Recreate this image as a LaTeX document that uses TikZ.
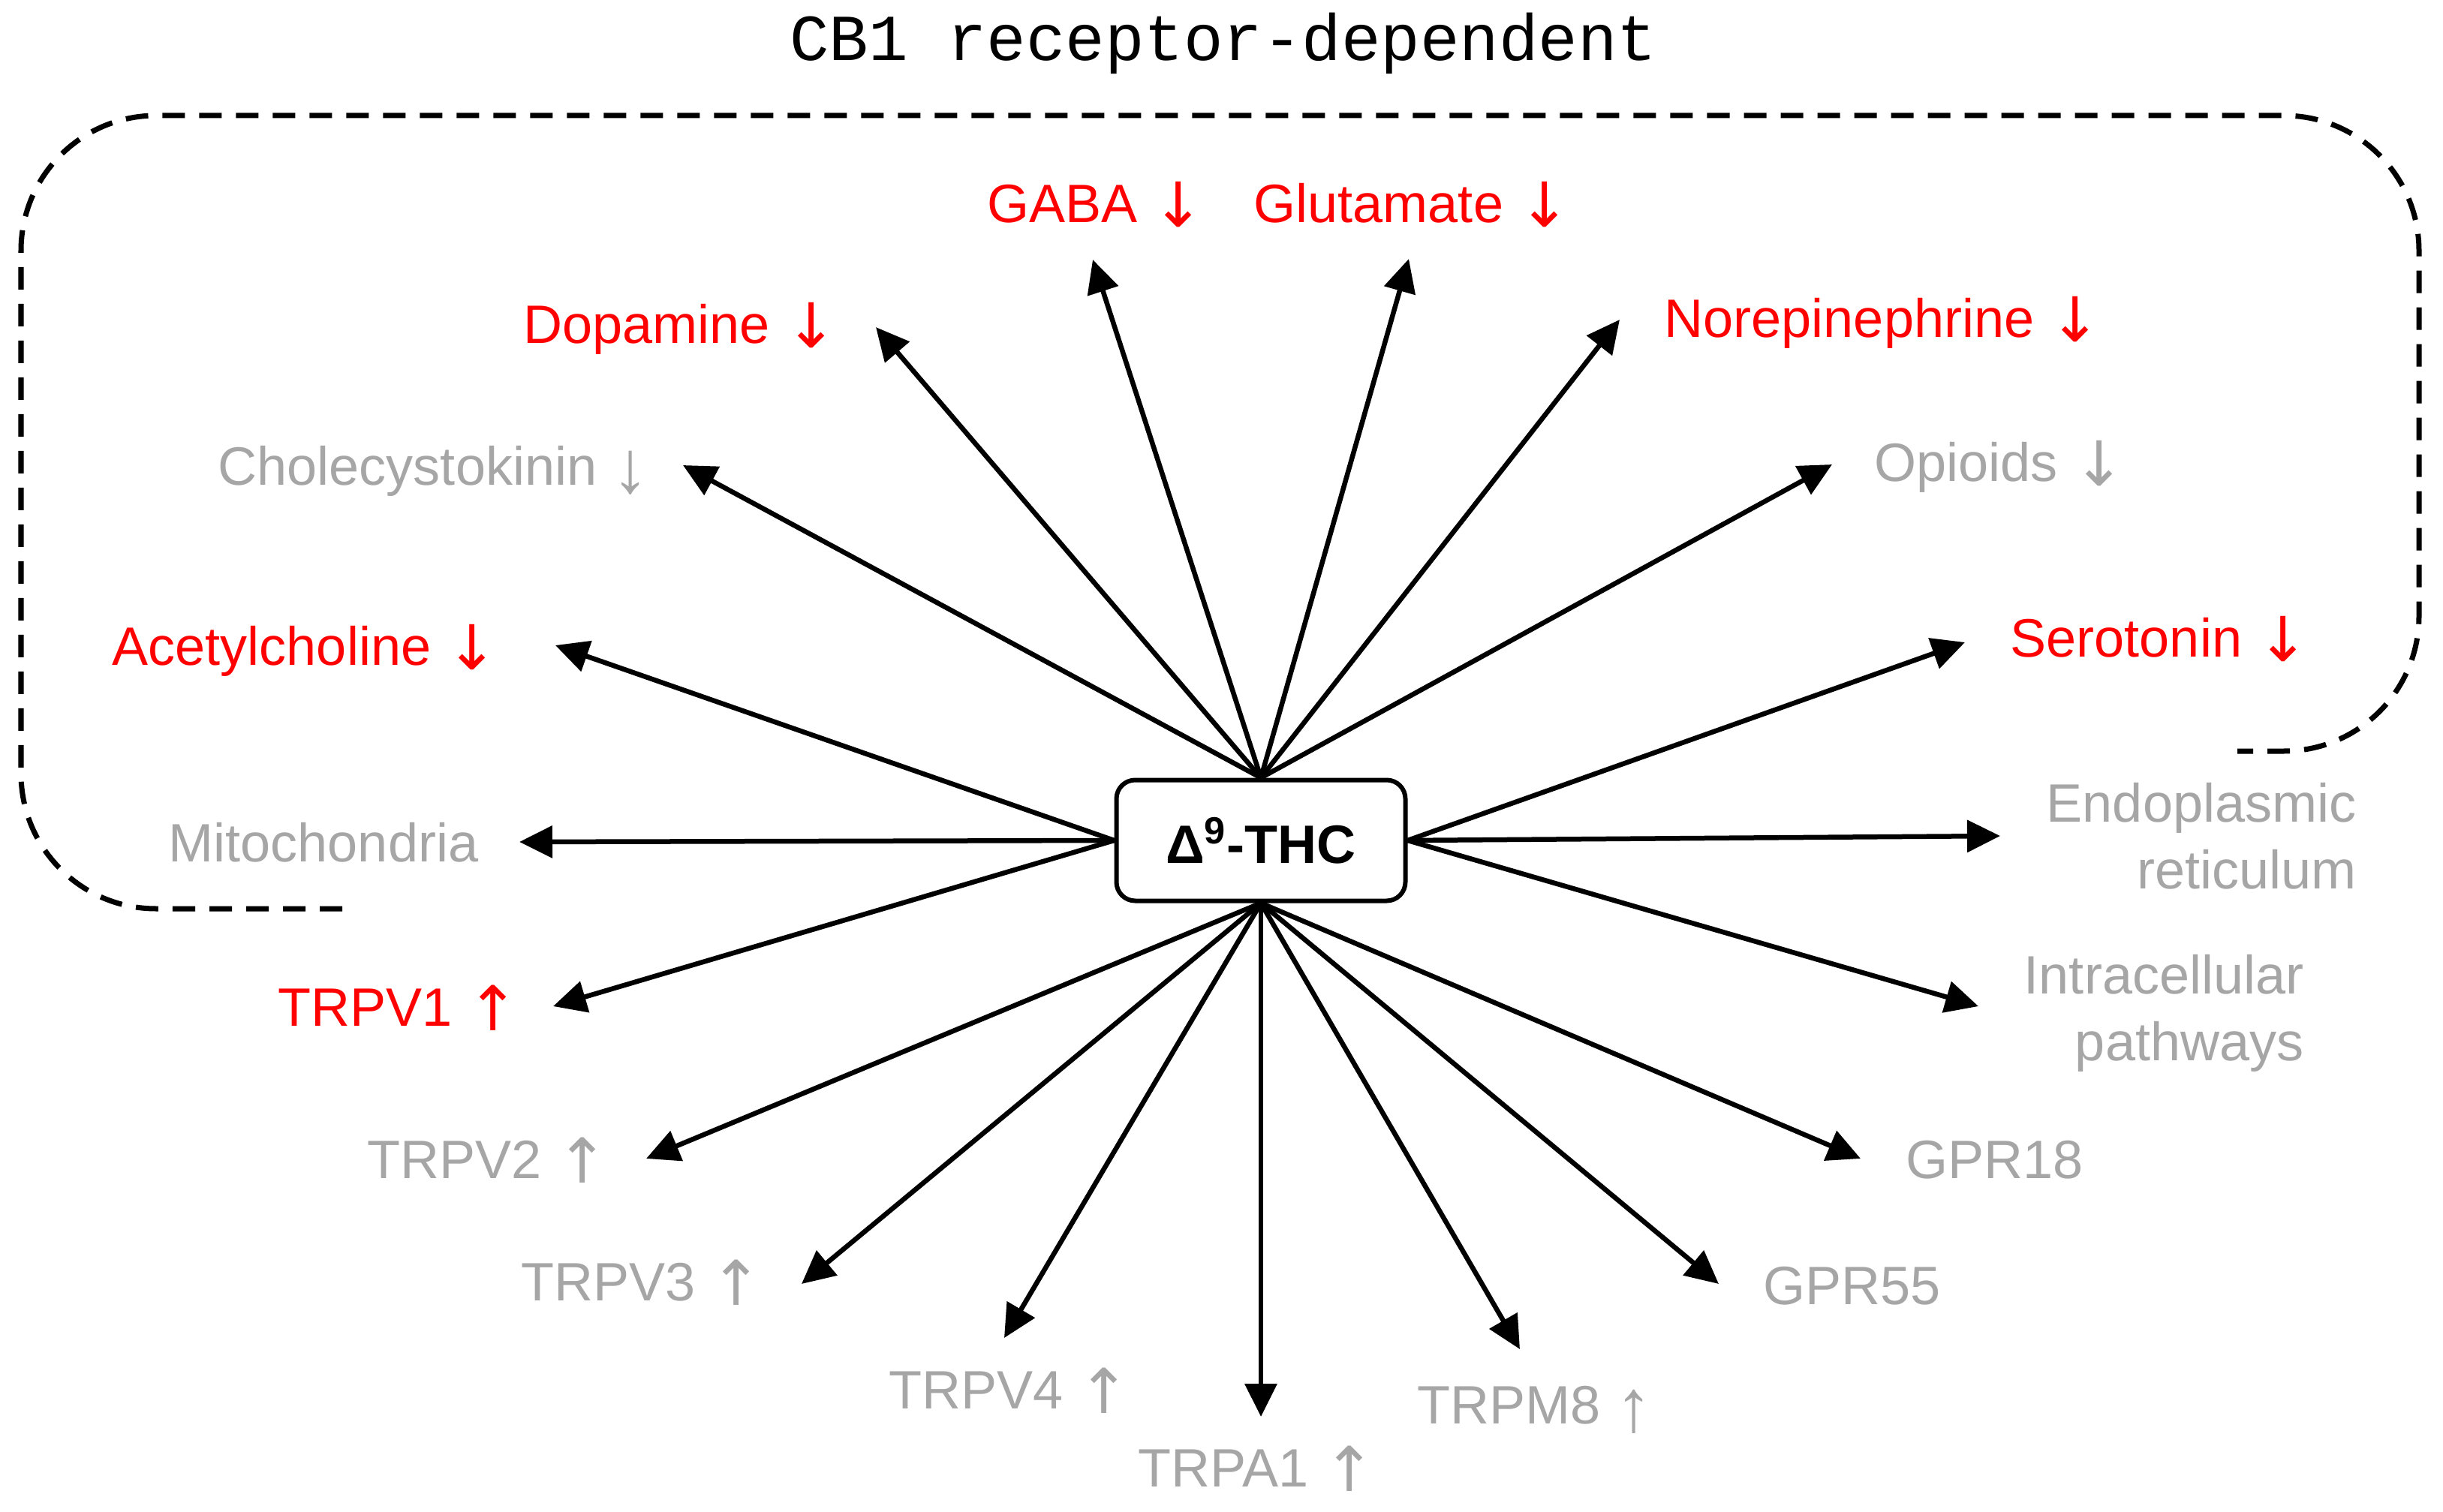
\documentclass[tikz,border=0pt]{standalone}
\usepackage{fontspec}
\setmainfont{Liberation Sans}
\newfontfamily\titlefont{Liberation Mono}
\newfontfamily\arrowfont{DejaVu Sans}
\usetikzlibrary{arrows.meta}
\usetikzlibrary{positioning}
\definecolor{lblred}{RGB}{255,0,0}
\definecolor{lblgray}{RGB}{166,166,166}
\newcommand{\dnarrow}{\raisebox{-0.06cm}{\arrowfont\fontsize{23.5}{25}\selectfont ↓}}
\newcommand{\uparrowmark}{\raisebox{-0.06cm}{\arrowfont\fontsize{23.5}{25}\selectfont ↑}}
\newcommand{\thindn}{\raisebox{-0.1cm}{\fontsize{28}{30}\selectfont ↓}}
\newcommand{\thinup}{\raisebox{-0.1cm}{\fontsize{28}{30}\selectfont ↑}}
\tikzset{
  lbl/.style={anchor=base west, inner sep=0pt, font=\fontsize{20.5}{25.3}\selectfont},
  redlbl/.style={lbl, text=lblred},
  graylbl/.style={lbl, text=lblgray},
  arr/.style={line width=0.065cm, -{Triangle[length=0.44cm,width=0.42cm]}},
  cbline/.style={line width=0.07cm, dash pattern=on 0.3cm off 0.19cm, rounded corners=1.8cm},
  thcbox/.style={draw, line width=0.06cm, rounded corners=0.25cm, minimum width=3.85cm, minimum height=1.61cm, font=\bfseries\fontsize{20.5}{25}\selectfont}
}

\begin{document}
\begin{tikzpicture}
\useasboundingbox (0,0) rectangle (32.55,-20.15);
\node[anchor=base, inner sep=0pt, font=\titlefont\fontsize{24.9}{30}\selectfont] (title) at (16.30,-0.81) {CB1 receptor-dependent};
\draw[cbline] (4.56,-12.11) -- (0.28,-12.11) -- (0.28,-1.54) -- (32.23,-1.54) -- (32.23,-10.01) -- (29.81,-10.01);

\node[thcbox] (thc) at (16.80,-11.20) {Δ\textsuperscript{9}-THC};

% CB1 side
\node[redlbl] (gaba) at (13.15,-2.96) {GABA \dnarrow};
\node[redlbl] (glu) at (16.70,-2.96) {Glutamate \dnarrow};
\node[redlbl] (dopa) at (6.97,-4.57) {Dopamine \dnarrow};
\node[redlbl] (nor) at (22.17,-4.49) {Norepinephrine \dnarrow};
\node[graylbl] (cck) at (2.90,-6.46) {Cholecystokinin \thindn};
\node[graylbl] (opi) at (24.97,-6.41) {Opioids \dnarrow};
\node[redlbl] (ach) at (1.49,-8.86) {Acetylcholine \dnarrow};
\node[redlbl] (sero) at (26.78,-8.75) {Serotonin \dnarrow};
\node[graylbl] (mito) at (2.24,-11.48) {Mitochondria};

% other targets
\node[graylbl, anchor=base east, align=right] (er) at (31.40,-11.84) {Endoplasmic\\reticulum};
\node[graylbl, anchor=base east, align=right] (icp) at (30.70,-14.13) {Intracellular\\pathways};
\node[redlbl] (v1) at (3.70,-13.67) {TRPV1 \uparrowmark};
\node[graylbl] (v2) at (4.89,-15.70) {TRPV2 \uparrowmark};
\node[graylbl] (v3) at (6.94,-17.33) {TRPV3 \uparrowmark};
\node[graylbl] (v4) at (11.84,-18.77) {TRPV4 \uparrowmark};
\node[graylbl] (a1) at (15.16,-19.81) {TRPA1 \uparrowmark};
\node[graylbl] (m8) at (18.88,-18.97) {TRPM8 \thinup};
\node[graylbl] (g18) at (25.39,-15.70) {GPR18};
\node[graylbl] (g55) at (23.49,-17.38) {GPR55};

% arrow ends
\coordinate (gaba-t) at (14.56,-3.46);
\coordinate (glu-t) at (18.77,-3.45);
\coordinate (dopa-t) at (11.67,-4.36);
\coordinate (nor-t) at (21.58,-4.26);
\coordinate (cck-t) at (9.10,-6.20);
\coordinate (opi-t) at (24.41,-6.19);
\coordinate (ach-t) at (7.40,-8.60);
\coordinate (sero-t) at (26.18,-8.56);
\coordinate (mito-t) at (6.92,-11.22);
\coordinate (er-t) at (26.65,-11.14);
\coordinate (icp-t) at (26.36,-13.41);
\coordinate (v1-t) at (7.37,-13.41);
\coordinate (v2-t) at (8.61,-15.44);
\coordinate (v3-t) at (10.68,-17.11);
\coordinate (v4-t) at (13.38,-17.83);
\coordinate (a1-t) at (16.80,-18.88);
\coordinate (m8-t) at (20.25,-17.98);
\coordinate (g55-t) at (22.90,-17.11);
\coordinate (g18-t) at (24.79,-15.44);

\draw[arr] (thc.north) -- (gaba-t);
\draw[arr] (thc.north) -- (glu-t);
\draw[arr] (thc.north) -- (dopa-t);
\draw[arr] (thc.north) -- (nor-t);
\draw[arr] (thc.north) -- (cck-t);
\draw[arr] (thc.north) -- (opi-t);
\draw[arr] (thc.west) -- (ach-t);
\draw[arr] (thc.east) -- (sero-t);
\draw[arr] (thc.west) -- (mito-t);
\draw[arr] (thc.east) -- (er-t);
\draw[arr] (thc.east) -- (icp-t);
\draw[arr] (thc.west) -- (v1-t);
\draw[arr] (thc.south) -- (v2-t);
\draw[arr] (thc.south) -- (v3-t);
\draw[arr] (thc.south) -- (v4-t);
\draw[arr] (thc.south) -- (a1-t);
\draw[arr] (thc.south) -- (m8-t);
\draw[arr] (thc.south) -- (g55-t);
\draw[arr] (thc.south) -- (g18-t);
\end{tikzpicture}
\end{document}
